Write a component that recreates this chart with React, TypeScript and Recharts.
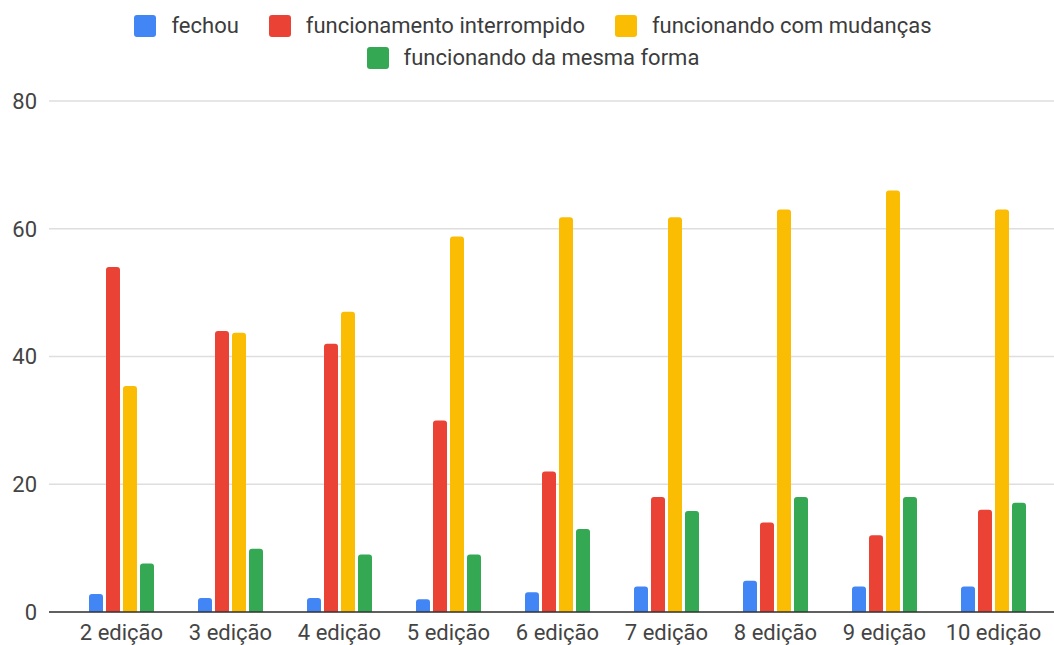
import { BarChart, Bar, XAxis, YAxis, CartesianGrid } from "recharts";

const edicoes = [
  "2 edição",
  "3 edição",
  "4 edição",
  "5 edição",
  "6 edição",
  "7 edição",
  "8 edição",
  "9 edição",
  "10 edição",
];

const fechou = [2.8, 2.2, 2.2, 2.0, 3.1, 4.0, 4.9, 4.0, 4.0];
const interrompido = [54, 44, 42, 30, 22, 18, 14, 12, 16];
const comMudancas = [35.4, 43.7, 47, 58.8, 61.8, 61.8, 63, 66, 63];
const mesmaForma = [7.6, 9.9, 9, 9, 13, 15.8, 18, 18, 17.1];

const yTicks = [0, 20, 40, 60, 80];

const series = [
  { key: "fechou", label: "fechou", color: "#4285F4", values: fechou },
  { key: "interrompido", label: "funcionamento interrompido", color: "#EA4335", values: interrompido },
  { key: "mudancas", label: "funcionando com mudanças", color: "#FBBC04", values: comMudancas },
  { key: "mesma", label: "funcionando da mesma forma", color: "#34A853", values: mesmaForma },
];

const data = edicoes.map((name, i) => {
  const row: Record<string, string | number> = { name };
  series.forEach((s) => {
    row[s.key] = s.values[i];
  });
  return row;
});

const font = "Roboto, Arial, sans-serif";

function LegendItem({ label, color }: { label: string; color: string }) {
  return (
    <div style={{ display: "flex", alignItems: "center", margin: "0 15px" }}>
      <span
        style={{
          width: 22,
          height: 22,
          borderRadius: 3,
          background: color,
          marginRight: 15,
          display: "inline-block",
        }}
      />
      <span>{label}</span>
    </div>
  );
}

export default function App() {
  return (
    <div
      style={{
        position: "absolute",
        left: 0,
        top: 0,
        width: 1054,
        height: 645,
        background: "#fff",
        fontFamily: font,
      }}
    >
      <div
        style={{
          position: "absolute",
          top: 10,
          left: 12,
          width: 1042,
          fontSize: 22,
          color: "#3c3c3c",
          lineHeight: "32px",
        }}
      >
        <div style={{ display: "flex", justifyContent: "center" }}>
          {series.slice(0, 3).map((s) => (
            <LegendItem key={s.key} label={s.label} color={s.color} />
          ))}
        </div>
        <div style={{ display: "flex", justifyContent: "center" }}>
          {series.slice(3).map((s) => (
            <LegendItem key={s.key} label={s.label} color={s.color} />
          ))}
        </div>
      </div>
      <BarChart
        width={1054}
        height={645}
        data={data}
        margin={{ top: 101, right: 0, left: 0, bottom: 3 }}
        barSize={14}
        barGap={3}
      >
        <CartesianGrid stroke="#dedede" strokeWidth={1.5} vertical={false} />
        <XAxis
          dataKey="name"
          height={30}
          padding={{ left: 18, right: 6 }}
          tick={{ fill: "#444", fontSize: 22, fontFamily: font }}
          tickLine={false}
          tickMargin={6}
          axisLine={{ stroke: "#333", strokeWidth: 1.5 }}
          interval={0}
        />
        <YAxis
          width={49}
          domain={[0, 80]}
          ticks={yTicks}
          tick={{ fill: "#444", fontSize: 22, fontFamily: font }}
          tickLine={false}
          tickMargin={6}
          axisLine={false}
        />
        {series.map((s) => (
          <Bar
            key={s.key}
            dataKey={s.key}
            name={s.label}
            fill={s.color}
            radius={[3, 3, 0, 0]}
            isAnimationActive={false}
          />
        ))}
      </BarChart>
    </div>
  );
}
